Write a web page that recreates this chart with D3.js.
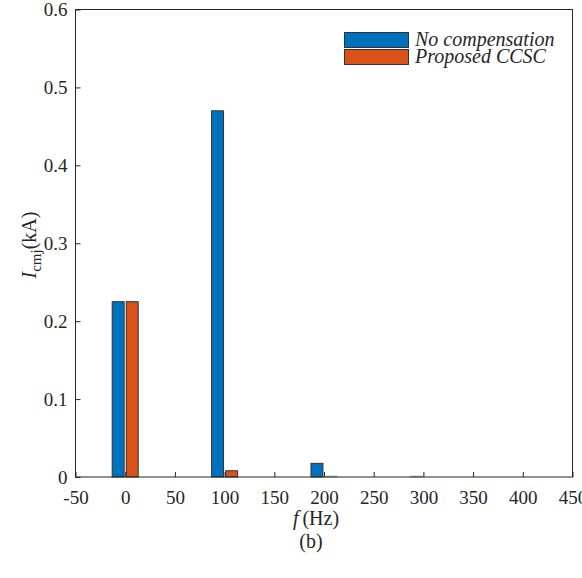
<!DOCTYPE html>
<html><head><meta charset="utf-8">
<script src="https://cdn.jsdelivr.net/npm/d3@7"></script>
<style>body{margin:0;background:#fff}svg{display:block}text{font-family:"Liberation Serif","Times New Roman",serif;fill:#262626}</style>
</head><body>
<script>
const categories = [0, 50, 100, 150, 200, 250, 300, 350, 400];
const seriesNames = ["No compensation", "Proposed CCSC"];
const noCompensation = [0.225, 0, 0.47, 0, 0.0175, 0, 0.001, 0, 0];
const proposedCCSC = [0.225, 0, 0.008, 0, 0.001, 0, 0, 0, 0];
const xTicks = [-50, 0, 50, 100, 150, 200, 250, 300, 350, 400, 450];
const yTicks = [0, 0.1, 0.2, 0.3, 0.4, 0.5, 0.6];
const colors = ["#0072BD", "#D95319"];

const W = 582, H = 578;
const m = {l: 75.5, r: 572.5, t: 9.5, b: 477};
const svg = d3.select("body").append("svg").attr("width", W).attr("height", H);

const x = d3.scaleLinear().domain([-50, 450]).range([m.l, m.r]);
const y = d3.scaleLinear().domain([0, 0.6]).range([m.b, m.t]);
const inner = d3.scaleBand().domain(seriesNames).range([-13, 13]).paddingInner(0.15).paddingOuter(0);

const seriesData = [noCompensation, proposedCCSC];
seriesNames.forEach((s, i) => {
  svg.append("g").selectAll("rect").data(categories.map((c, j) => ({c, v: seriesData[i][j]})))
    .join("rect")
    .attr("x", d => x(d.c) + inner(s))
    .attr("width", inner.bandwidth())
    .attr("y", d => y(d.v))
    .attr("height", d => y(0) - y(d.v))
    .attr("fill", colors[i])
    .attr("stroke", d => d.v > 0.002 ? "#333" : "#aaa")
    .attr("stroke-width", 1);
});

// frame
svg.append("rect").attr("x", m.l).attr("y", m.t).attr("width", m.r - m.l).attr("height", m.b - m.t)
  .attr("fill", "none").attr("stroke", "#262626").attr("stroke-width", 1);

const xAxis = svg.append("g").attr("transform", `translate(0,${m.b})`)
  .call(d3.axisBottom(x).tickValues(xTicks).tickSize(-5).tickPadding(14).tickFormat(d => String(d)));
xAxis.select(".domain").remove();
xAxis.selectAll("line").attr("stroke", "#262626");
xAxis.selectAll("text").attr("font-size", 19).attr("font-family", "Liberation Serif").attr("fill", "#262626");

const yAxis = svg.append("g").attr("transform", `translate(${m.l},0)`)
  .call(d3.axisLeft(y).tickValues(yTicks).tickSize(-5).tickPadding(8).tickFormat(d => d === 0 ? "0" : d3.format(".1f")(d)));
yAxis.select(".domain").remove();
yAxis.selectAll("line").attr("stroke", "#262626");
yAxis.selectAll("text").attr("font-size", 19).attr("font-family", "Liberation Serif").attr("fill", "#262626");

// x label
const xl = svg.append("text").attr("x", 316).attr("y", 525).attr("text-anchor", "middle").attr("font-size", 20);
xl.append("tspan").attr("font-style", "italic").text("f");
xl.append("tspan").text("\u2009(Hz)");

svg.append("text").attr("x", 311).attr("y", 548).attr("text-anchor", "middle").attr("font-size", 20).text("(b)");

// y label
const yl = svg.append("text").attr("transform", `translate(36,245) rotate(-90)`).attr("text-anchor", "middle").attr("font-size", 20);
yl.append("tspan").attr("font-style", "italic").text("I");
yl.append("tspan").attr("font-size", 15).attr("dy", 5).text("cmj");
yl.append("tspan").attr("dy", -5).text("(kA)");

// legend
const lg = svg.append("g");
seriesNames.forEach((s, i) => {
  const yy = 32.5 + i * 17;
  lg.append("rect").attr("x", 344.5).attr("y", yy).attr("width", 64).attr("height", 15)
    .attr("fill", colors[i]).attr("stroke", "#333");
  lg.append("text").attr("x", 415).attr("y", yy + 13).attr("font-size", 20).attr("font-style", "italic").text(s);
});
</script>
</body></html>
